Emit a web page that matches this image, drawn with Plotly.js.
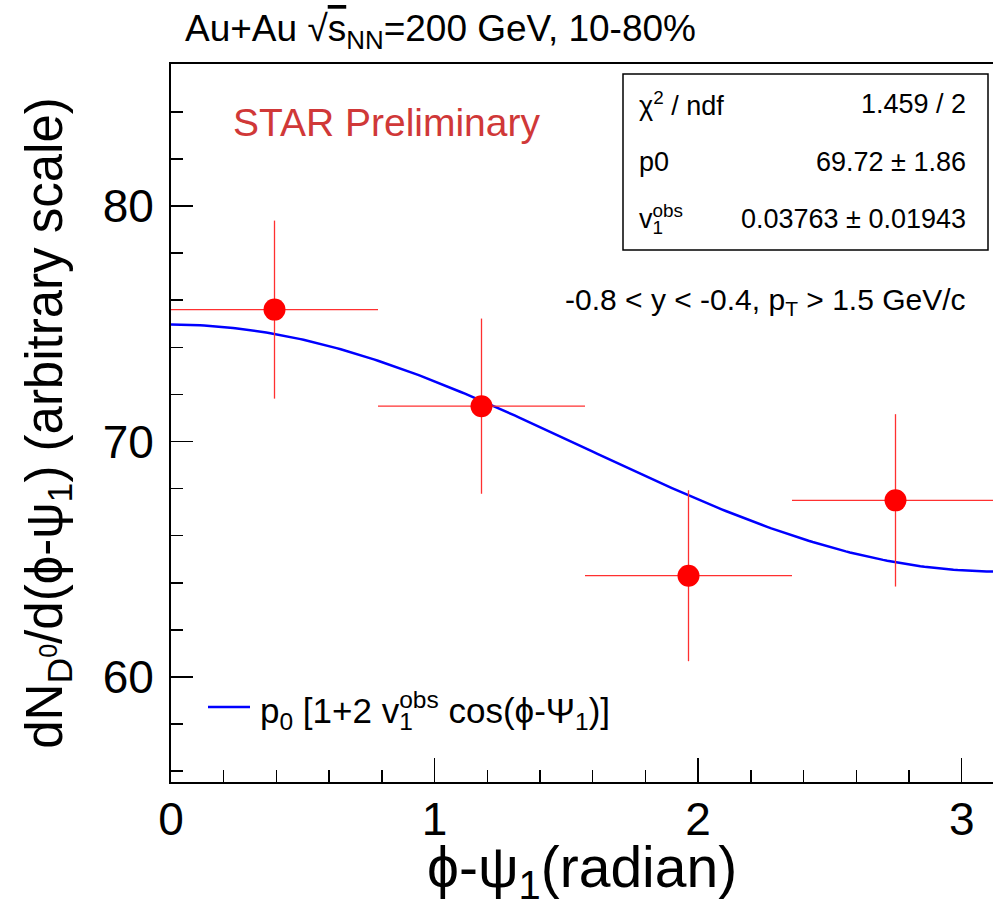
<!DOCTYPE html>
<html>
<head>
<meta charset="utf-8">
<script src="https://cdn.plot.ly/plotly-3.0.1.min.js"></script>
<style>
html,body{margin:0;padding:0;overflow:hidden;background:#fff;}
#chart{width:1000px;height:916px;}
</style>
</head>
<body>
<div id="chart"></div>
<script>
// ---- data ----
const binCenters = [0.3927, 1.1781, 1.9635, 2.7489];   // phi - psi1 (rad)
const binHalfWidths = [0.3927, 0.3927, 0.3927, 0.3927];
const yields = [75.6, 71.5, 64.3, 67.5];               // dN/d(phi-psi1)
const yieldErrors = [3.78, 3.72, 3.63, 3.66];
const xTickVals = [0, 1, 2, 3];
const yTickVals = [60, 70, 80];
// fit parameters (from the stats box)
const fitP0 = 69.72;
const fitV1 = 0.03763;
const statsLabels = ["χ<sup>2</sup> / ndf", "p0",
  'v<sub><span style="letter-spacing:-10.5px">1</span></sub><sup>obs</sup>'];
const statsValues = ["1.459 / 2", "69.72 ± 1.86", "0.03763 ± 0.01943"];

// fit curve p0 [1 + 2 v1 cos(x)] evaluated on the axis range
const fitX = [], fitY = [];
const nFit = 200;
for (let i = 0; i <= nFit; i++) {
  const x = Math.PI * i / nFit;
  fitX.push(x);
  fitY.push(fitP0 * (1 + 2 * fitV1 * Math.cos(x)));
}

// ---- geometry helpers (pixel -> paper) ----
const L = 171, R = 999, T = 64, B = 782, W = 1000, H = 916;
const px = v => (v - L) / (R - L);
const py = v => (B - v) / (B - T);
const FONT = "Liberation Sans, Arial, Helvetica, sans-serif";

const traces = [
  {
    x: fitX, y: fitY, type: 'scatter', mode: 'lines',
    line: {color: '#0000ff', width: 2.5}, hoverinfo: 'skip', showlegend: false
  },
  {
    x: binCenters, y: yields, type: 'scatter', mode: 'markers',
    marker: {color: '#ff0000', size: 22, symbol: 'circle'},
    error_x: {type: 'data', array: binHalfWidths, width: 0, thickness: 1.3, color: '#ff3030'},
    error_y: {type: 'data', array: yieldErrors, width: 0, thickness: 1.3, color: '#ff3030'},
    showlegend: false
  }
];

const annotations = [
  {xref:'paper', yref:'paper', x: px(183), y: py(31), xanchor:'left', yanchor:'middle', showarrow:false,
   text: 'Au+Au √<span style="text-decoration:overline">s</span><sub>NN</sub>=200 GeV, 10-80%',
   font:{family:FONT, size:37, color:'#000'}},
  {xref:'paper', yref:'paper', x: px(231), y: py(123), xanchor:'left', yanchor:'middle', showarrow:false,
   text: 'STAR Preliminary', font:{family:FONT, size:39, color:'#d03838'}},
  {xref:'paper', yref:'paper', x: px(968), y: py(301), xanchor:'right', yanchor:'middle', showarrow:false,
   text: '-0.8 &lt; y &lt; -0.4, p<sub>T</sub> &gt; 1.5 GeV/c', font:{family:FONT, size:30, color:'#000'}},
  {xref:'paper', yref:'paper', x: px(258), y: py(710), xanchor:'left', yanchor:'middle', showarrow:false,
   text: 'p<sub>0</sub> [1+2 v<sub><span style="letter-spacing:-13.6px">1</span></sub><sup>obs</sup> cos(ϕ-Ψ<sub>1</sub>)]',
   font:{family:FONT, size:35, color:'#000'}},
  {xref:'paper', yref:'paper', x: px(582), y: py(871), xanchor:'center', yanchor:'middle', showarrow:false,
   text: 'ϕ-ψ<sub>1</sub>(radian)', font:{family:FONT, size:57, color:'#000'}}
];
const rowY = [104, 162, 219];
for (let i = 0; i < 3; i++) {
  annotations.push({xref:'paper', yref:'paper', x: px(637), y: py(rowY[i]), xanchor:'left', yanchor:'middle',
    showarrow:false, text: statsLabels[i], font:{family:FONT, size:27, color:'#000'}});
  annotations.push({xref:'paper', yref:'paper', x: px(968), y: py(rowY[i]), xanchor:'right', yanchor:'middle',
    showarrow:false, text: statsValues[i], font:{family:FONT, size:27, color:'#000'}});
}

const shapes = [
  {type:'rect', xref:'paper', yref:'paper', x0: px(623), x1: px(988), y0: py(250), y1: py(74),
   line:{color:'#000', width:1.5}, fillcolor:'rgba(255,255,255,0)', layer:'above'},
  {type:'line', xref:'paper', yref:'paper', x0: px(208), x1: px(250), y0: py(707), y1: py(707),
   line:{color:'#0000ff', width:2.5}}
];

const layout = {
  width: W, height: H,
  margin: {l: L, r: W - R, t: T, b: H - B, pad: 0},
  paper_bgcolor: '#fff', plot_bgcolor: '#fff',
  showlegend: false,
  font: {family: FONT, color: '#000'},
  xaxis: {
    range: [0, Math.PI], tickvals: xTickVals, ticktext: xTickVals.map(String),
    ticks: 'inside', ticklen: 24, tickwidth: 1.5, tickcolor: '#000',
    minor: {dtick: 0.2, tick0: 0, ticks: 'inside', ticklen: 12, tickwidth: 1.5, tickcolor: '#000', showgrid: false},
    showline: true, linewidth: 2, linecolor: '#000', mirror: true,
    showgrid: false, zeroline: false,
    tickfont: {family: FONT, size: 46, color: '#000'},
    ticklabelstandoff: -4
  },
  yaxis: {
    range: [55.54, 86.03], tickvals: yTickVals, ticktext: yTickVals.map(String),
    ticks: 'inside', ticklen: 22, tickwidth: 1.5, tickcolor: '#000',
    minor: {dtick: 2, tick0: 0, ticks: 'inside', ticklen: 12, tickwidth: 1.5, tickcolor: '#000', showgrid: false},
    showline: true, linewidth: 2, linecolor: '#000', mirror: true,
    showgrid: false, zeroline: false,
    tickfont: {family: FONT, size: 46, color: '#000'},
    ticklabelstandoff: 6,
    title: {text: 'dN<sub>D<sup>0</sup></sub>/d(ϕ-ψ<sub>1</sub>) (arbitrary scale)', font: {family: FONT, size: 51, color: '#000'}, standoff: 24}
  },
  annotations: annotations,
  shapes: shapes
};

Plotly.newPlot('chart', traces, layout, {staticPlot: true, displayModeBar: false});
</script>
</body>
</html>
